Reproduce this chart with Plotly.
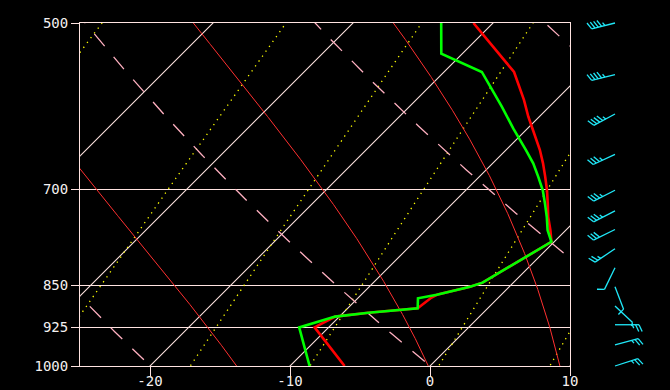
import numpy as np
import plotly.graph_objects as go

# ---------------- data ----------------
pressure_levels = [1000, 925, 850, 700, 500]
pressure_labels = ["1000", "925", "850", "700", "500"]
temp_ticks = [-20, -10, 0, 10]
temp_tick_text = ["-20", "-10", "0", "10"]

temp_p = [1000, 925, 905, 898, 890, 872, 866, 852, 845, 778, 760, 740, 720, 701,
          682, 664, 646, 621, 604, 584, 565, 552, 500]
temp_c = [-6.1, -11.0, -10.3, -8.2, -5.0, -4.8, -4.6, -2.8, -2.2, -0.2, -1.1, -2.2,
          -3.2, -4.2, -5.3, -6.4, -7.6, -9.5, -10.8, -12.3, -13.9, -15.0, -21.4]

dewp_p = [1000, 925, 905, 898, 890, 872, 866, 852, 845, 778, 760, 740, 720, 701,
          682, 664, 646, 619, 592, 571, 552, 532, 500]
dewp_c = [-8.6, -12.1, -10.3, -8.2, -5.0, -5.7, -4.6, -2.8, -2.2, -0.2, -1.3, -2.3,
          -3.4, -4.5, -5.8, -7.1, -8.6, -11.0, -13.4, -15.4, -17.3, -21.5, -23.7]

wind_p = [500, 555, 601, 652, 701, 731, 759, 789, 820, 852, 886, 920, 958, 1000]
wind_dir = [256, 256, 242, 245, 243, 243, 244, 236, 206, 159, 133, 90, 75, 72]
wind_kt = [45, 45, 45, 35, 35, 35, 30, 25, 10, 10, 5, 25, 25, 25]

isotherm_c = [-70, -60, -50, -40, -30, -20, -10, 0, 10]
dry_theta_c = [-20, 0, 20, 40]
moist_t1000_c = [-13.8, -0.1, 9.3, 17.2]
mixing_gkg = [0.1, 0.4, 1, 2, 4, 7]

# ---------------- geometry ----------------
W, H = 670, 390
ML, MR, MT, MB = 80, 0, 10, 10
X0, X1 = 80, 570        # plot box in px
Y0, Y1 = 23, 366
TMIN, TMAX = -25, 10
PTOP, PBOT = 500, 1000
px_per_deg = (X1 - X0) / (TMAX - TMIN)
px_per_ln = (Y1 - Y0) / np.log(PBOT / PTOP)
SKEW = px_per_ln / px_per_deg   # 45 degree isotherms

def skx(t, p):
    return np.asarray(t) + SKEW * np.log(PBOT / np.asarray(p, dtype=float))

pp = np.linspace(1030, 480, 221)

RD, CP, LV, EPS = 287.04, 1005.7, 2.5e6, 0.622

def es_hpa(tc):
    return 6.112 * np.exp(17.67 * tc / (tc + 243.5))

def moist_profile(t0c):
    def f(T, p):
        es = es_hpa(T - 273.15)
        rs = EPS * es / (p - es)
        return (RD * T + LV * rs) / (p * (CP + LV * LV * rs * EPS / (RD * T * T)))
    T = t0c + 273.15
    grid_up = np.linspace(1000, 480, 521)
    Tu = [T]
    for i in range(1, len(grid_up)):
        dp = grid_up[i] - grid_up[i - 1]
        pc = grid_up[i - 1]
        k1 = f(Tu[-1], pc)
        k2 = f(Tu[-1] + 0.5 * dp * k1, pc + 0.5 * dp)
        k3 = f(Tu[-1] + 0.5 * dp * k2, pc + 0.5 * dp)
        k4 = f(Tu[-1] + dp * k3, pc + dp)
        Tu.append(Tu[-1] + dp * (k1 + 2 * k2 + 2 * k3 + k4) / 6)
    grid_dn = np.linspace(1000, 1030, 31)
    Td = [T]
    for i in range(1, len(grid_dn)):
        dp = grid_dn[i] - grid_dn[i - 1]
        Td.append(Td[-1] + dp * f(Td[-1], grid_dn[i - 1]))
    P = np.concatenate([grid_dn[::-1], grid_up[1:]])
    TT = np.concatenate([np.array(Td[::-1]), np.array(Tu[1:])]) - 273.15
    return P, TT

LINE_W = "#ffe4e1"
fig = go.Figure()

for t in isotherm_c:
    fig.add_trace(go.Scatter(x=skx(np.full_like(pp, t), pp), y=pp, mode="lines",
                             line=dict(color=LINE_W, width=1.1), hoverinfo="skip"))
for w in mixing_gkg:
    es = w * pp / (622.0 + w)
    lnr = np.log(es / 6.112)
    tc = 243.5 * lnr / (17.67 - lnr)
    fig.add_trace(go.Scatter(x=skx(tc, pp), y=pp, mode="lines",
                             line=dict(color="#ffff00", width=1.3, dash="1.3px,4.7px"),
                             hoverinfo="skip"))
for th in dry_theta_c:
    tc = (th + 273.15) * (pp / 1000.0) ** 0.286 - 273.15
    fig.add_trace(go.Scatter(x=skx(tc, pp), y=pp, mode="lines",
                             line=dict(color="#ffb0c0", width=1.3, dash="16px,14px"),
                             hoverinfo="skip"))
for t0 in moist_t1000_c:
    P, TT = moist_profile(t0)
    fig.add_trace(go.Scatter(x=skx(TT, P), y=P, mode="lines",
                             line=dict(color="#ff3030", width=1), hoverinfo="skip"))

fig.add_trace(go.Scatter(x=skx(temp_c, temp_p), y=temp_p, mode="lines",
                         line=dict(color="#ff0000", width=2.6), hoverinfo="skip"))
fig.add_trace(go.Scatter(x=skx(dewp_c, dewp_p), y=dewp_p, mode="lines",
                         line=dict(color="#00ff00", width=2.6), hoverinfo="skip"))

# ---------------- wind barbs (pixel units on x2, log-p on y2) ----------------
k_log = np.log10(PBOT / PTOP) / (Y1 - Y0)   # log10 p per pixel
STATION_X = 45
STAFF, FULL, SPACE, ANG = 24.0, 7.5, 3.4, np.radians(25)
bx, by = [], []

def add_seg(p, x0, y0, x1, y1):
    bx.extend([STATION_X + x0, STATION_X + x1, None])
    by.extend([10 ** (np.log10(p) - y0 * k_log), 10 ** (np.log10(p) - y1 * k_log), None])

for p, d, s in zip(wind_p, wind_dir, wind_kt):
    a = np.radians(d)
    dx, dy = np.sin(a), np.cos(a)
    rx, ry = dy, -dx
    tx = rx * np.cos(ANG) + dx * np.sin(ANG)
    ty = ry * np.cos(ANG) + dy * np.sin(ANG)
    add_seg(p, 0, 0, STAFF * dx, STAFF * dy)
    n50 = int(s // 50)
    n10 = int((s - 50 * n50) // 10)
    n5 = int(round((s - 50 * n50 - 10 * n10) / 5))
    pos = STAFF
    for _ in range(n10):
        add_seg(p, pos * dx, pos * dy, pos * dx + FULL * tx, pos * dy + FULL * ty)
        pos -= SPACE
    if n5:
        add_seg(p, pos * dx, pos * dy, pos * dx + 0.5 * FULL * tx, pos * dy + 0.5 * FULL * ty)

fig.add_trace(go.Scatter(x=bx, y=by, xaxis="x2", yaxis="y2", mode="lines",
                         line=dict(color="#20e8f8", width=1.3), hoverinfo="skip"))

plot_w = W - ML - MR
plot_h = H - MT - MB
ydom = [(H - MB - Y1) / plot_h, (H - MB - Y0) / plot_h]
xdom = [0, (X1 - X0) / plot_w]
y2_range = [np.log10(PBOT) + (H - MB - Y1) * k_log, np.log10(PTOP) - (Y0 - MT) * k_log]

font = dict(family="DejaVu Sans Mono", size=14, color="#f4f0f0")
fig.update_layout(
    width=W, height=H, margin=dict(l=ML, r=MR, t=MT, b=MB, autoexpand=False),
    paper_bgcolor="#000000", plot_bgcolor="#000000", showlegend=False,
    xaxis=dict(domain=xdom, range=[TMIN, TMAX], tickvals=temp_ticks,
               ticktext=temp_tick_text, ticks="outside", ticklen=9,
               tickcolor=LINE_W, showgrid=False, zeroline=False, showline=True,
               mirror=True, linecolor=LINE_W, linewidth=1, tickfont=font,
               automargin=False, ticklabelstandoff=-7),
    yaxis=dict(domain=ydom, type="log", range=[np.log10(PBOT), np.log10(PTOP)],
               tickvals=pressure_levels, ticktext=pressure_labels, ticks="outside",
               ticklen=8, tickcolor=LINE_W, showgrid=True, gridcolor=LINE_W, gridwidth=1,
               zeroline=False, showline=True, mirror=True, linecolor=LINE_W,
               linewidth=1, tickfont=font, automargin=False),
    xaxis2=dict(domain=[xdom[1], 1], range=[0, W - X1], visible=False, anchor="y2",
                automargin=False),
    yaxis2=dict(domain=[0, 1], type="log", range=y2_range, visible=False, anchor="x2",
                automargin=False),
)

fig.write_html("out.html", config={"displayModeBar": False},
               post_script="document.body.style.margin='0px';document.body.style.overflow='hidden';")
